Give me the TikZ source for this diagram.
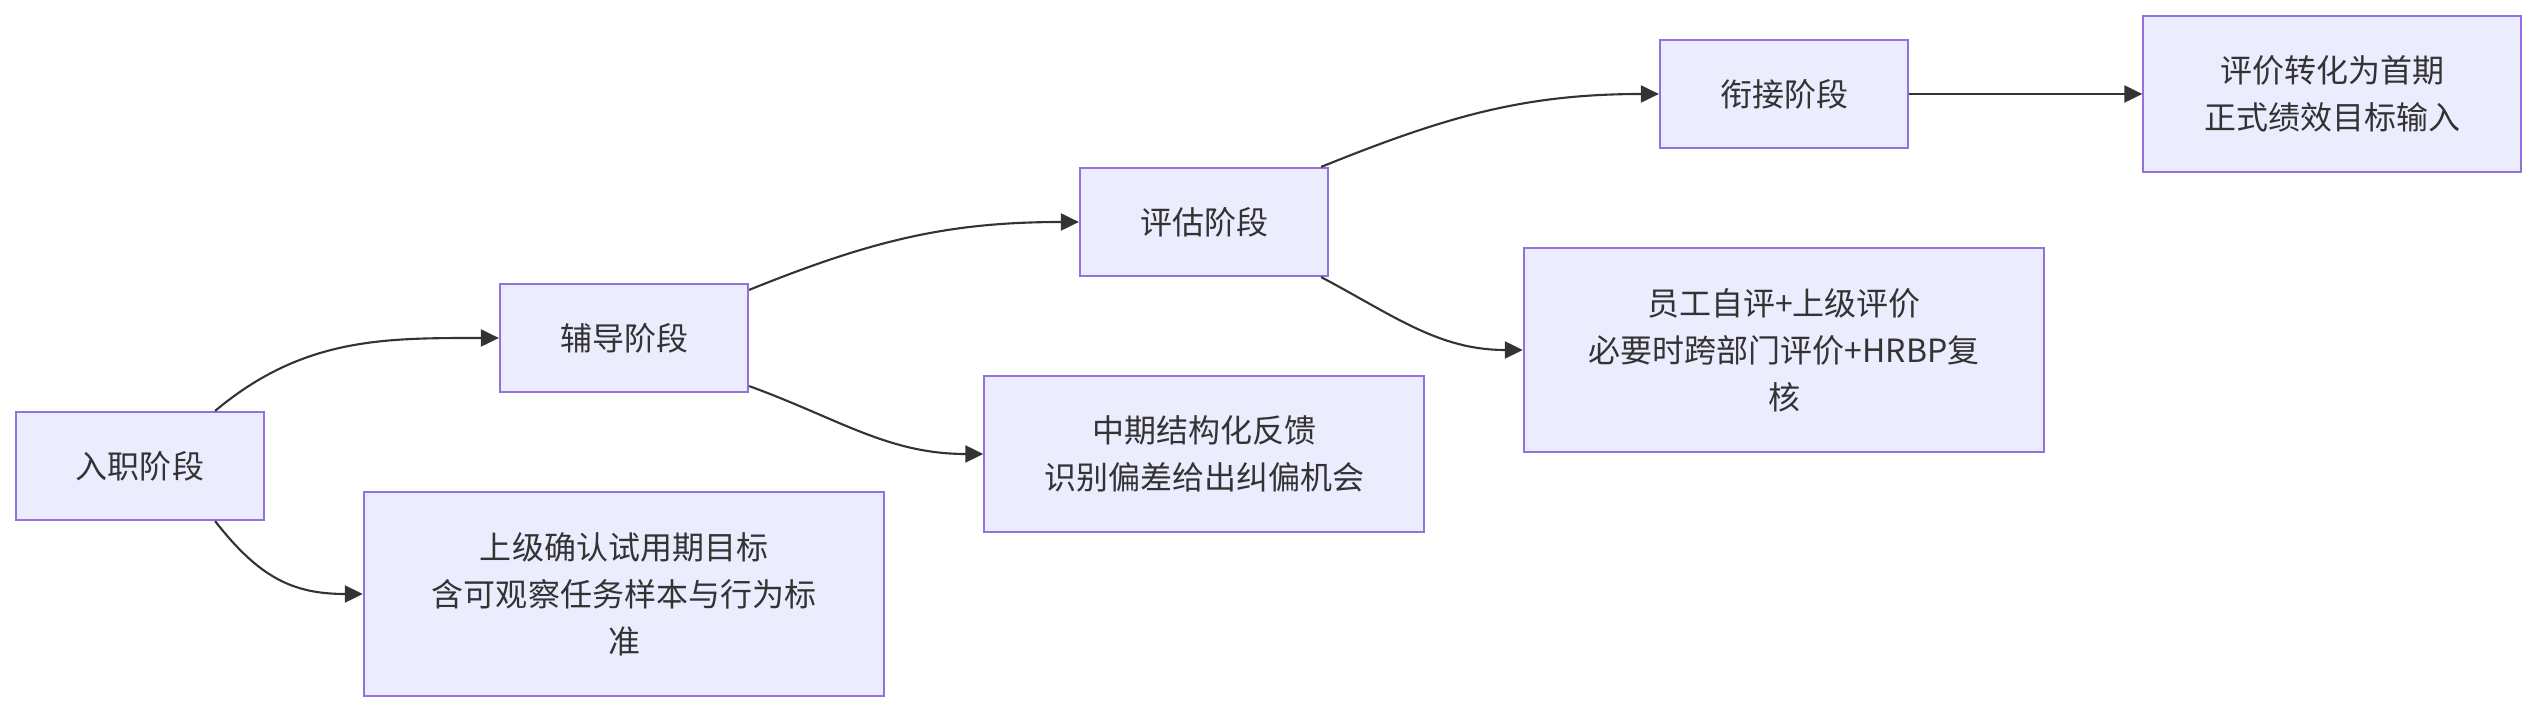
\documentclass[tikz,border=0pt]{standalone}
\usepackage{fontspec}
\setmainfont{Noto Sans CJK SC}
\usetikzlibrary{arrows.meta}
\definecolor{boxfill}{HTML}{ECECFF}
\definecolor{boxline}{HTML}{9370DB}
\definecolor{ink}{HTML}{333333}

\begin{document}
\begin{tikzpicture}[x=0.01cm,y=0.01cm,
    stage/.style={draw=boxline,fill=boxfill,line width=0.6pt,text=ink,align=center,inner sep=0pt,
      font=\fontsize{9.1pt}{13.4pt}\selectfont},
    phase/.style={stage,minimum width=2.48cm,minimum height=1.08cm},
    flow/.style={draw=ink,line width=0.6pt,-{Triangle[length=0.18cm,width=0.17cm]}}]%
          \useasboundingbox (0,0) rectangle (2536,712);%
          \node [phase] (ruzhi) at (140,246) {入职阶段};%
          \node [phase] (fudao) at (624,374) {辅导阶段};%
          \node [phase] (pinggu) at (1204,490) {评估阶段};%
          \node [phase] (xianjie) at (1784,618) {衔接阶段};%
          \node [stage,minimum width=5.2cm,minimum height=2.04cm] (mubiao) at (624,118) {上级确认试用期目标\\含可观察任务样本与行为标\\准};%
          \node [stage,minimum width=4.39cm,minimum height=1.56cm] (fankui) at (1204,258) {中期结构化反馈\\识别偏差给出纠偏机会};%
          \node [stage,minimum width=5.2cm,minimum height=2.04cm] (pingjia) at (1784,362) {员工自评+上级评价\\必要时跨部门评价+HRBP复\\核};%
          \node [stage,minimum width=3.77cm,minimum height=1.56cm] (shuru) at (2332,618) {评价转化为首期\\正式绩效目标输入};%
          \draw [flow] ([xshift=-0.5cm]ruzhi.north east) to [out=40,in=180] (fudao.west);%
          \draw [flow] ([xshift=-0.5cm]ruzhi.south east) to [out=-52,in=180,looseness=1.1] (mubiao.west);%
          \draw [flow] ([yshift=-0.07cm]fudao.north east) to [out=22,in=180] (pinggu.west);%
          \draw [flow] ([yshift=0.07cm]fudao.south east) to [out=-20,in=180] (fankui.west);%
          \draw [flow] ([xshift=-0.08cm]pinggu.north east) to [out=22,in=180] (xianjie.west);%
          \draw [flow] ([xshift=-0.08cm]pinggu.south east) to [out=-28,in=180] (pingjia.west);%
          \draw [flow] (xianjie.east) to (shuru.west);%
        \end{tikzpicture}
\end{document}
